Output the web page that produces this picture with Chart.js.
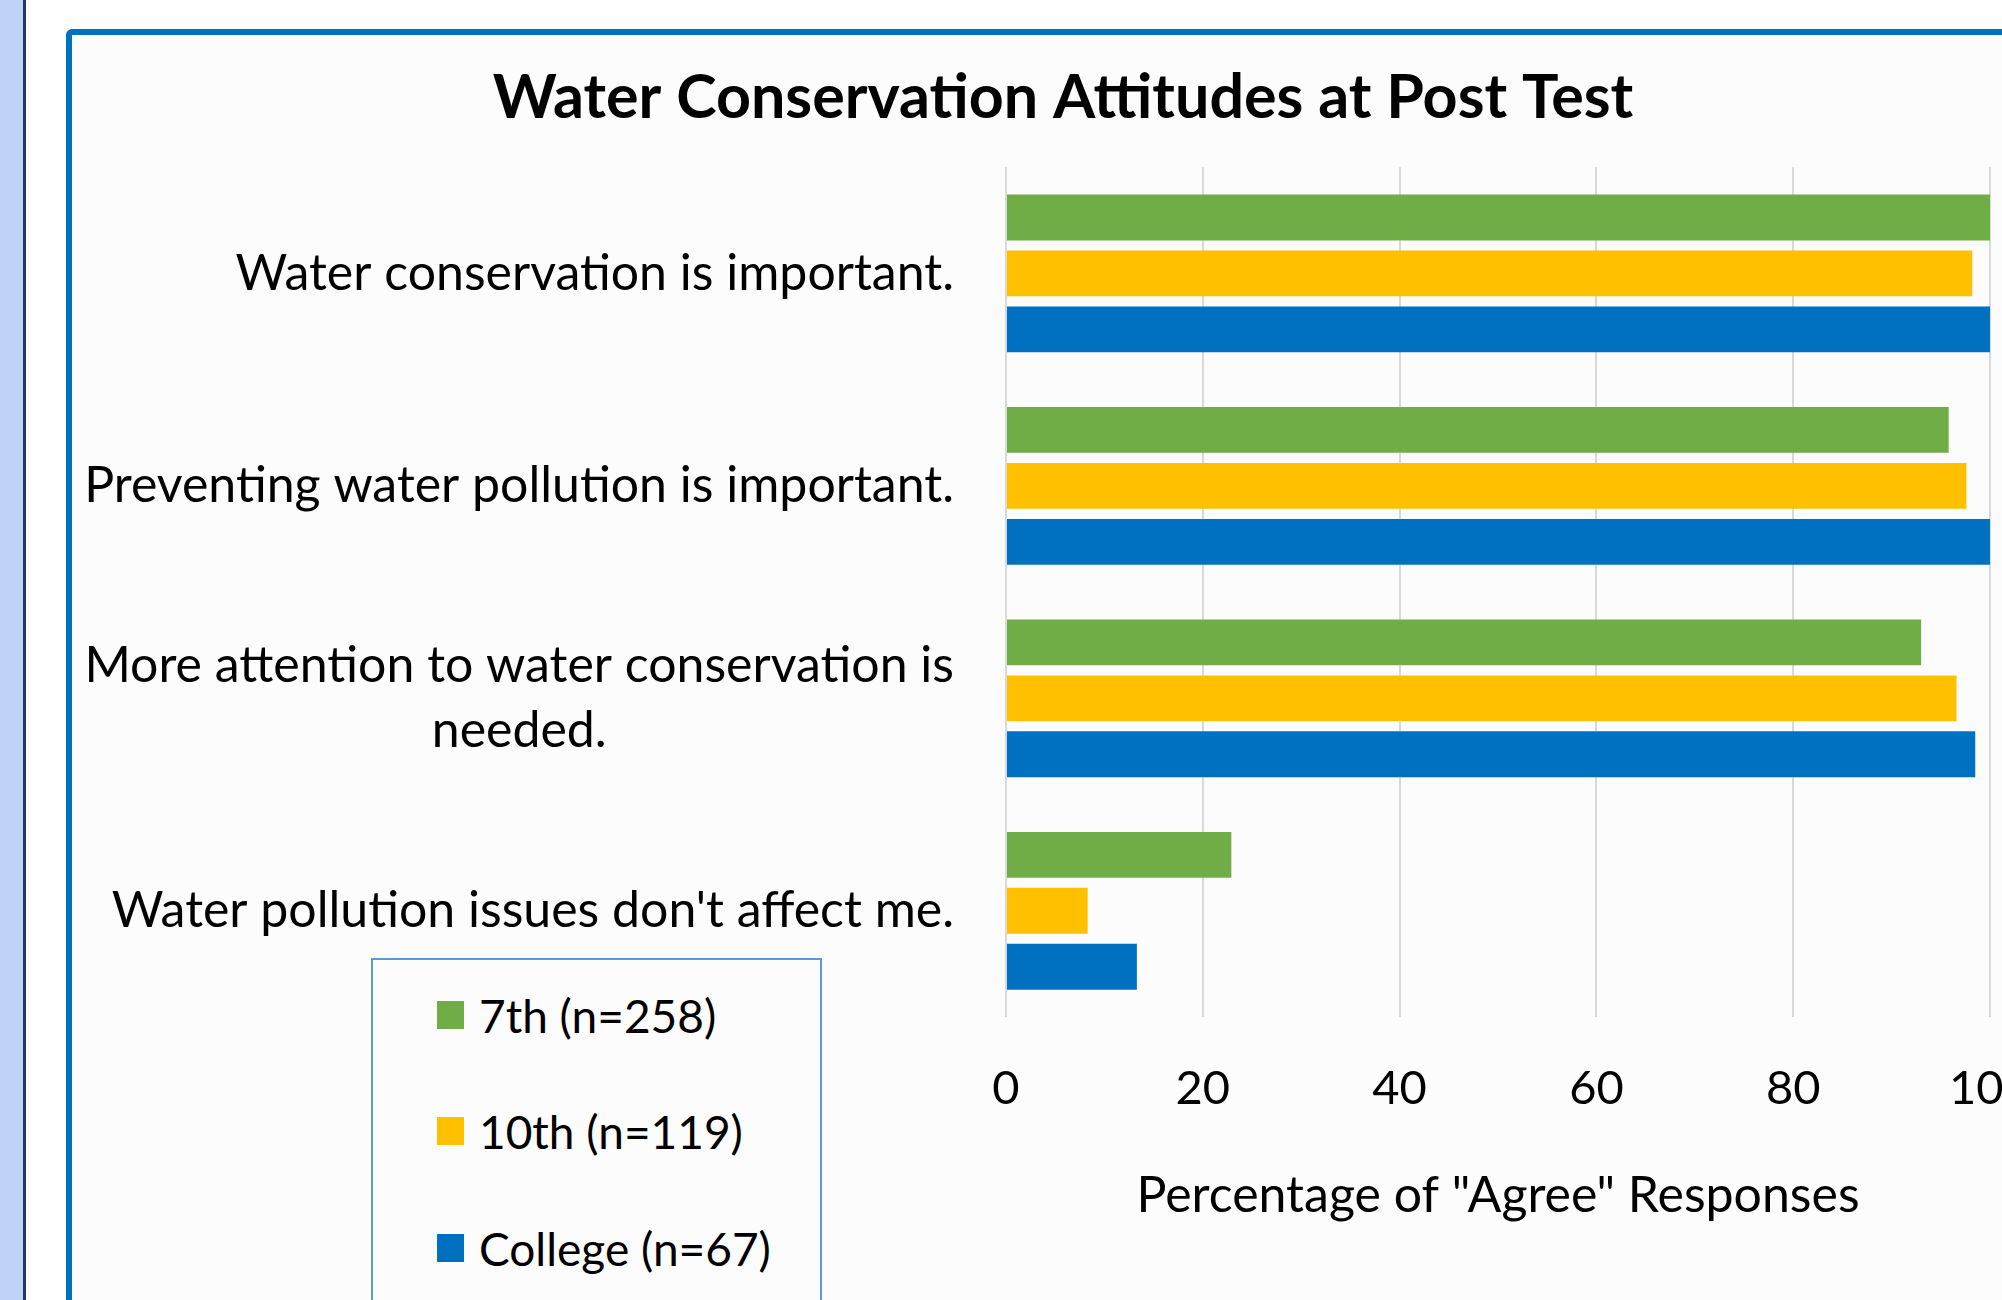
<!DOCTYPE html>
<html>
<head>
<meta charset="utf-8">
<title>Water Conservation Attitudes at Post Test</title>
<script src="https://cdn.jsdelivr.net/npm/chart.js@4.4.1/dist/chart.umd.min.js"></script>
<style>
  html, body { margin: 0; padding: 0; width: 2002px; height: 1300px; overflow: hidden; background: #ffffff; }
  #strip { position: absolute; left: 0; top: 0; width: 23px; height: 1300px; background: #BFD3F8; border-right: 3px solid #1F3763; }
  #frame { position: absolute; left: 66px; top: 29px; width: 2100px; height: 1400px; box-sizing: border-box;
           border: 6px solid #0070C0; border-radius: 6px; background: #FCFCFC; }
  #wrap { position: absolute; left: 0; top: 0; width: 2126px; height: 1300px; }
  #legend { position: absolute; left: 371px; top: 958px; width: 451px; height: 420px; box-sizing: border-box;
            border: 2px solid #5B9BD5; background: #FCFCFC; font-family: Lato, sans-serif; font-size: 46px; color: #000; }
  #legend .item { position: absolute; left: 64px; height: 60px; display: flex; align-items: center; white-space: nowrap; }
  #legend .swatch { width: 27px; height: 28px; margin-right: 15px; flex: none; }
</style>
</head>
<body>
<div id="strip"></div>
<div id="frame"></div>
<div id="wrap"><canvas id="chart" width="2126" height="1300"></canvas></div>
<div id="legend"></div>
<script>
// Survey statements (y categories); the third one wraps onto two lines
const categories = [
  'Water conservation is important.',
  'Preventing water pollution is important.',
  ['More attention to water conservation is', 'needed.'],
  "Water pollution issues don't affect me."
];

// Respondent groups
const groupNames = ['7th (n=258)', '10th (n=119)', 'College (n=67)'];
const groupColors = ['#70AD47', '#FFC000', '#0070C0'];

// Percentage of "Agree" responses per statement
const seventhGrade = [100, 95.8, 93.0, 22.9];
const tenthGrade   = [98.2, 97.6, 96.6, 8.3];
const college      = [100, 100, 98.5, 13.3];

// Value axis ticks
const percentTicks = [0, 20, 40, 60, 80, 100];

const series = [seventhGrade, tenthGrade, college];

// Statement labels: right-aligned block, wrapped lines centred within it
const statementLabels = {
  id: 'statementLabels',
  afterDraw(chart) {
    const { ctx, chartArea, scales: { y } } = chart;
    const right = chartArea.left - 52;
    const lineHeight = 65;
    ctx.save();
    ctx.font = '50px Lato';
    ctx.fillStyle = '#000000';
    ctx.textAlign = 'center';
    ctx.textBaseline = 'middle';
    chart.data.labels.forEach((label, i) => {
      const lines = Array.isArray(label) ? label : [label];
      const blockWidth = Math.max(...lines.map(l => ctx.measureText(l).width));
      const cx = right - blockWidth / 2;
      const cy = y.getPixelForValue(i);
      lines.forEach((line, k) => {
        ctx.fillText(line, cx, cy + (k - (lines.length - 1) / 2) * lineHeight);
      });
    });
    ctx.restore();
  }
};

const chart = new Chart(document.getElementById('chart'), {
  type: 'bar',
  data: {
    labels: categories,
    datasets: series.map((values, i) => ({
      label: groupNames[i],
      data: values,
      backgroundColor: groupColors[i],
      borderWidth: 0,
      barPercentage: 0.82,
      categoryPercentage: 0.79
    }))
  },
  options: {
    indexAxis: 'y',
    responsive: false,
    maintainAspectRatio: false,
    animation: false,
    devicePixelRatio: 1,
    layout: { padding: 0 },
    plugins: {
      legend: { display: false },
      tooltip: { enabled: false },
      title: {
        display: true,
        text: 'Water Conservation Attitudes at Post Test',
        color: '#000000',
        font: { family: 'Lato', weight: 'bold', size: 61 },
        padding: { top: 62, bottom: 32 }
      }
    },
    scales: {
      x: {
        position: 'bottom',
        min: percentTicks[0],
        max: percentTicks[percentTicks.length - 1],
        ticks: {
          stepSize: percentTicks[1] - percentTicks[0],
          color: '#000000',
          font: { family: 'Lato', size: 47 },
          padding: 44
        },
        grid: { color: '#D9D9D9', lineWidth: 2, drawTicks: false },
        border: { display: false },
        title: {
          display: true,
          text: 'Percentage of "Agree" Responses',
          color: '#000000',
          font: { family: 'Lato', size: 50 },
          padding: { top: 0, bottom: 74 }
        },
        afterFit(scale) { scale.height = 283; }
      },
      y: {
        grid: { display: false },
        ticks: { display: false },
        border: { display: false },
        afterFit(scale) { scale.width = 1006; }
      },
      rightGutter: {
        type: 'linear',
        position: 'right',
        grid: { display: false },
        ticks: { display: false },
        border: { display: false },
        afterFit(scale) { scale.width = 136; }
      }
    }
  },
  plugins: [statementLabels]
});

// Legend box built from the chart's datasets
const legendEl = document.getElementById('legend');
const rowCenters = [55, 171, 288];
chart.data.datasets.forEach((ds, i) => {
  const item = document.createElement('div');
  item.className = 'item';
  item.style.top = (rowCenters[i] - 30) + 'px';
  const sw = document.createElement('span');
  sw.className = 'swatch';
  sw.style.background = ds.backgroundColor;
  const txt = document.createElement('span');
  txt.textContent = ds.label;
  item.appendChild(sw);
  item.appendChild(txt);
  legendEl.appendChild(item);
});
</script>
</body>
</html>
